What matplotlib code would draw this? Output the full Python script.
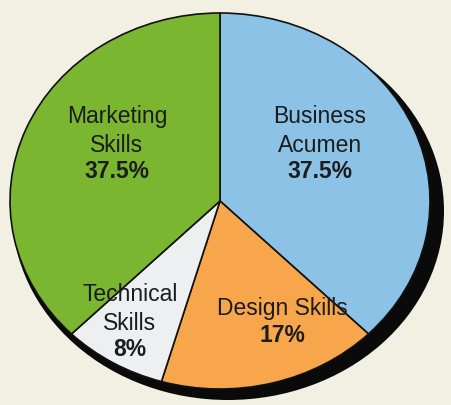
import matplotlib
matplotlib.use("Agg")
import matplotlib.pyplot as plt
from matplotlib.patches import Ellipse

# slice data, in drawing order (clockwise from 12 o'clock)
names = ["Business\nAcumen", "Design Skills", "Technical\nSkills", "Marketing\nSkills"]
shares = [37.5, 17, 8, 37.5]
pct_text = ["37.5%", "17%", "8%", "37.5%"]
colors = ["#8cc2e5", "#f8a64c", "#eeeff1", "#7ab62f"]

bg = "#f1f0e2"
W, H = 451, 405
cx, cy = 220, 201      # pie centre, pixels from top-left
rx, ry = 210, 188      # ellipse radii in pixels

fig = plt.figure(figsize=(W / 100, H / 100), dpi=100, facecolor=bg)
ax = fig.add_axes([0, 0, 1, 1])
ax.set_facecolor(bg)

wedges, _ = ax.pie(shares, colors=colors, startangle=90, counterclock=False,
                   wedgeprops=dict(edgecolor="#111111", linewidth=1.2))

# black drop shadow behind the pie (thick on the right and bottom)
shadow = Ellipse((8 / rx, -10 / ry), 2 * (rx + 6) / rx, 2 * (ry + 1) / ry,
                 facecolor="#0a0a0a", edgecolor="none", zorder=0)
ax.add_patch(shadow)

ax.set_aspect("auto")
ax.set_xlim(-cx / rx, (W - cx) / rx)
ax.set_ylim(-(H - cy) / ry, cy / ry)
ax.axis("off")

# label positions (pixels from top-left): name block centre, percent line
spots = [(320, 131, 172), (282, 308, 335), (130, 309, 350), (117, 131, 172)]
font = dict(family="Liberation Sans", fontsize=16.5, color="#1c1c1c", ha="center", va="center")
for name, pct, (x, y_name, y_pct) in zip(names, pct_text, spots):
    fig.text(x / W, 1 - y_name / H, name, linespacing=1.3, **font)
    fig.text(x / W, 1 - y_pct / H, pct, fontweight="bold", **font)

fig.savefig("out.png", dpi=100, facecolor=bg)
